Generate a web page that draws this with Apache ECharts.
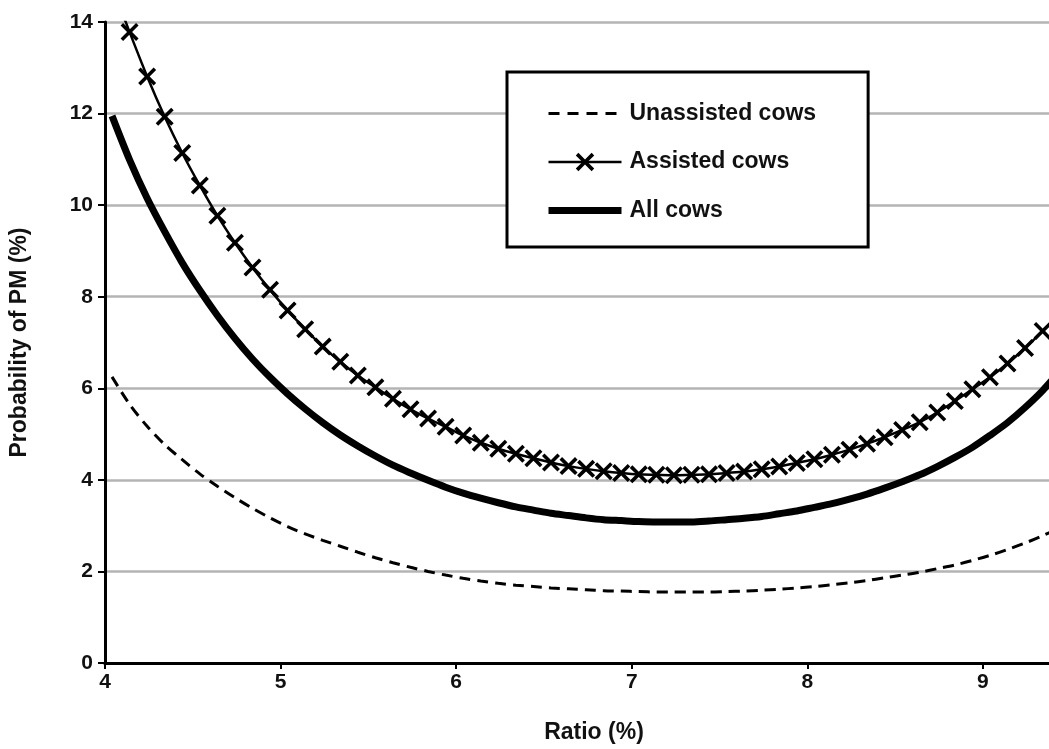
<!DOCTYPE html>
<html>
<head>
<meta charset="utf-8">
<script src="https://cdn.jsdelivr.net/npm/echarts@6/dist/echarts.min.js"></script>
<style>
html,body{margin:0;padding:0;background:#fff;}
#chart{width:1049px;height:749px;}
</style>
</head>
<body>
<div id="chart"></div>
<script>
// Ratio (%) values, step 0.1
const ratio = [4.04,4.14,4.24,4.34,4.44,4.54,4.64,4.74,4.84,4.94,
  5.04,5.14,5.24,5.34,5.44,5.54,5.64,5.74,5.84,5.94,
  6.04,6.14,6.24,6.34,6.44,6.54,6.64,6.74,6.84,6.94,
  7.04,7.14,7.24,7.34,7.44,7.54,7.64,7.74,7.84,7.94,
  8.04,8.14,8.24,8.34,8.44,8.54,8.64,8.74,8.84,8.94,
  9.04,9.14,9.24,9.34,9.44];

const unassisted = [6.25,5.65,5.17,4.77,4.44,4.13,3.86,3.61,3.38,3.17,
  2.98,2.82,2.68,2.55,2.42,2.30,2.19,2.09,2.00,1.92,
  1.85,1.79,1.74,1.70,1.67,1.64,1.62,1.60,1.58,1.57,
  1.56,1.55,1.55,1.55,1.55,1.56,1.57,1.59,1.61,1.64,
  1.67,1.71,1.75,1.80,1.86,1.92,1.98,2.06,2.14,2.24,
  2.35,2.48,2.62,2.78,2.95];

const assisted = [14.79,13.78,12.81,11.93,11.14,10.43,9.77,9.18,8.64,8.15,
  7.70,7.29,6.91,6.58,6.28,6.02,5.77,5.54,5.34,5.16,
  4.97,4.81,4.68,4.57,4.47,4.38,4.30,4.24,4.19,4.15,
  4.12,4.11,4.10,4.11,4.12,4.15,4.18,4.23,4.29,4.37,
  4.45,4.55,4.66,4.79,4.93,5.09,5.26,5.47,5.72,5.98,
  6.24,6.54,6.88,7.25,7.65];

const allCows = [11.95,10.99,10.15,9.42,8.74,8.14,7.59,7.09,6.64,6.24,
  5.88,5.55,5.25,4.98,4.74,4.52,4.32,4.15,3.99,3.84,
  3.71,3.60,3.50,3.41,3.34,3.27,3.22,3.17,3.13,3.11,
  3.09,3.08,3.08,3.08,3.10,3.13,3.16,3.20,3.26,3.32,
  3.40,3.48,3.58,3.69,3.82,3.96,4.11,4.29,4.49,4.71,
  4.97,5.25,5.58,5.95,6.38];

const seriesNames = ['Unassisted cows','Assisted cows','All cows'];
const yTicks = [0,2,4,6,8,10,12,14];
const xTicks = [4,5,6,7,8,9];

function pairs(ys){ return ratio.map((x,i)=>[x,ys[i]]); }

const FONT = '"Liberation Sans", Arial, sans-serif';
const XSYM = 'path://M0,2.8L2.8,0L10,7.2L17.2,0L20,2.8L12.8,10L20,17.2L17.2,20L10,12.8L2.8,20L0,17.2L7.2,10Z';

const chart = echarts.init(document.getElementById('chart'), null, {renderer:'canvas'});
chart.setOption({
  animation:false,
  backgroundColor:'#fff',
  grid:{left:105, top:22, width:978, bottom:86, containLabel:false, outerBoundsMode:'none'},
  legend:{
    orient:'vertical', left:507, top:72,
    backgroundColor:'#fff', borderColor:'#000', borderWidth:3,
    padding:[30,52,25,38], itemGap:25.5, itemWidth:73, itemHeight:23,
    textStyle:{fontFamily:FONT, fontWeight:'bold', fontSize:23, color:'#111', padding:[0,0,0,3]},
    data:[
      {name:seriesNames[0], itemStyle:{opacity:0}, lineStyle:{width:3, type:[11,8], color:'#000'}},
      {name:seriesNames[1], lineStyle:{width:2.5, color:'#000'}},
      {name:seriesNames[2], itemStyle:{opacity:0}, lineStyle:{width:7, color:'#000'}}
    ]
  },
  xAxis:[{
    type:'value', min:4, max:9.57, interval:1,
    axisLine:{show:true, onZero:false, lineStyle:{color:'#000', width:3}},
    axisTick:{show:true, length:6, lineStyle:{color:'#000', width:2}},
    axisLabel:{fontFamily:FONT, fontWeight:'bold', fontSize:21, color:'#111', margin:9,
      showMaxLabel:false,
      formatter:function(v){ return xTicks.indexOf(v) >= 0 ? String(v) : ''; }},
    splitLine:{show:false},
    name:'Ratio (%)', nameLocation:'middle', nameGap:58,
    nameTextStyle:{fontFamily:FONT, fontWeight:'bold', fontSize:23, color:'#111'}
  },{
    type:'value', position:'top', min:4, max:9.57,
    axisLine:{show:true, lineStyle:{color:'#000', width:3}},
    axisTick:{show:false}, axisLabel:{show:false}, splitLine:{show:false}
  }],
  yAxis:{
    type:'value', min:0, max:14, interval:2,
    axisLine:{show:true, lineStyle:{color:'#000', width:3}},
    axisTick:{show:true, length:7, lineStyle:{color:'#000', width:2}},
    axisLabel:{fontFamily:FONT, fontWeight:'bold', fontSize:21, color:'#111', margin:12,
      formatter:function(v){ return yTicks.indexOf(v) >= 0 ? String(v) : ''; }},
    splitLine:{show:true, lineStyle:{color:'#b4b4b4', width:2.5}},
    name:'Probability of PM (%)', nameLocation:'middle', nameGap:74, nameRotate:90,
    nameTextStyle:{fontFamily:FONT, fontWeight:'bold', fontSize:23, color:'#111'}
  },
  series:[
    {
      name:seriesNames[0], type:'line', data:pairs(unassisted), smooth:0.3,
      showSymbol:false, symbol:'none', clip:true,
      lineStyle:{color:'#000', width:3, type:[11,7]},
      itemStyle:{color:'#000'}
    },
    {
      name:seriesNames[1], type:'line', data:pairs(assisted), smooth:0.3,
      symbol:XSYM, symbolSize:18, showSymbol:true, showAllSymbol:true, clip:true,
      lineStyle:{color:'#000', width:2.5},
      itemStyle:{color:'#000'}
    },
    {
      name:seriesNames[2], type:'line', data:pairs(allCows), smooth:0.3,
      showSymbol:false, symbol:'none', clip:true,
      lineStyle:{color:'#000', width:7},
      itemStyle:{color:'#000'}
    }
  ]
});
</script>
</body>
</html>
